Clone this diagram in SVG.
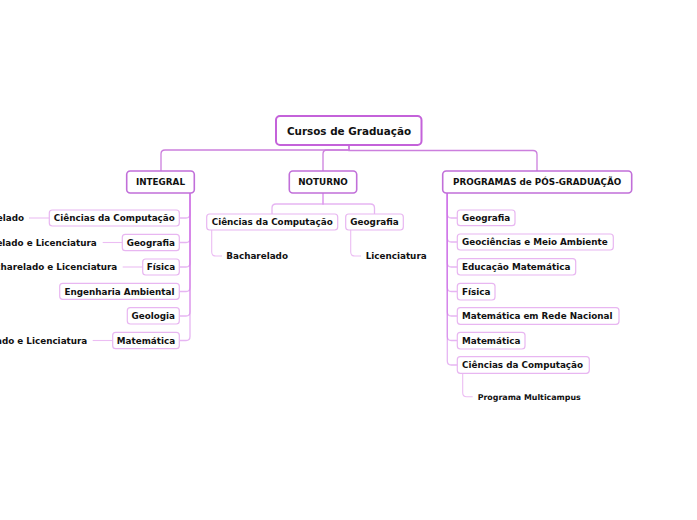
<svg xmlns="http://www.w3.org/2000/svg" width="697" height="520" viewBox="0 0 697 520">
<style>
text{font-family:"DejaVu Sans",Verdana,sans-serif;font-weight:bold;fill:#111;font-size:8.8px}
.root rect{fill:#fff;stroke:#c462da;stroke-width:2}
.root text{font-size:10.4px}
.l1 rect{fill:#fff;stroke:#c16fd9;stroke-width:1.6}
.l2 rect{fill:#fff;stroke:#e8b6f1;stroke-width:1.2}
.c0{fill:none;stroke:#cc7fdd;stroke-width:1.3}
.c1{fill:none;stroke:rgba(210,120,232,0.55);stroke-width:1.3}
.c2{fill:none;stroke:#ecbdf3;stroke-width:1.1}
.mid{text-anchor:middle}
.end{text-anchor:end}
</style>
<g id="connectors">
<path class="c0" d="M349,145 V150 H165 Q161,150 161,154 V171"/>
<path class="c0" d="M349,145 V150 H327 Q323,150 323,154 V171"/>
<path class="c0" d="M349,145 V150.5 H533 Q537,150.5 537,154.5 V171"/>
<path class="c1" d="M190,193 V214 Q190,218 186,218 H180"/>
<path class="c1" d="M190,193 V238.5 Q190,242.5 186,242.5 H180"/>
<path class="c1" d="M190,193 V263 Q190,267 186,267 H180"/>
<path class="c1" d="M190,193 V287.5 Q190,291.5 186,291.5 H180"/>
<path class="c1" d="M190,193 V312 Q190,316 186,316 H180"/>
<path class="c1" d="M190,193 V336.5 Q190,340.5 186,340.5 H180"/>
<path class="c2" d="M49,218 H29"/>
<path class="c2" d="M122.3,242.5 H102.7"/>
<path class="c2" d="M142.7,267 H122.7"/>
<path class="c2" d="M112.7,340.5 H92.7"/>
<path class="c1" d="M323,193 V204 H276 Q272,204 272,208 V214"/>
<path class="c1" d="M323,193 V204 H370.5 Q374.5,204 374.5,208 V214"/>
<path class="c2" d="M211.7,230 V252 Q211.7,256 215.7,256 H222"/>
<path class="c2" d="M350.7,230 V252 Q350.7,256 354.7,256 H361"/>
<path class="c1" d="M447.3,193 V214 Q447.3,218 451.3,218 H457.3"/>
<path class="c1" d="M447.3,193 V238 Q447.3,242 451.3,242 H457.3"/>
<path class="c1" d="M447.3,193 V263 Q447.3,267 451.3,267 H457.3"/>
<path class="c1" d="M447.3,193 V287.5 Q447.3,291.5 451.3,291.5 H457.3"/>
<path class="c1" d="M447.3,193 V312 Q447.3,316 451.3,316 H457.3"/>
<path class="c1" d="M447.3,193 V336.5 Q447.3,340.5 451.3,340.5 H457.3"/>
<path class="c1" d="M447.3,193 V361 Q447.3,365 451.3,365 H457.3"/>
<path class="c2" d="M462.7,373.3 V392.7 Q462.7,396.7 466.7,396.7 H472.7"/>
</g>
<g id="root" class="root"><rect x="276" y="116" width="145.5" height="29" rx="4"/><text class="mid" x="349" y="134.8">Cursos de Graduação</text></g>
<g id="integral" class="l1"><rect x="126.7" y="171" width="67.6" height="22" rx="3.5"/><text class="mid" x="160.5" y="185.3">INTEGRAL</text></g>
<g id="noturno" class="l1"><rect x="289.3" y="171" width="67.4" height="22" rx="3.5"/><text class="mid" x="323" y="185.3">NOTURNO</text></g>
<g id="pos" class="l1"><rect x="442.7" y="171" width="189" height="22" rx="3.5"/><text class="mid" x="537.2" y="185.3">PROGRAMAS de PÓS-GRADUAÇÃO</text></g>
<g id="int-cc" class="l2"><rect x="49.3" y="210" width="130" height="16" rx="3"/><text class="mid" x="114.3" y="221.2">Ciências da Computação</text></g>
<g id="int-geo" class="l2"><rect x="122.3" y="234.3" width="57" height="16.4" rx="3"/><text class="mid" x="150.8" y="245.7">Geografia</text></g>
<g id="int-fis" class="l2"><rect x="142.7" y="259" width="36.6" height="16" rx="3"/><text class="mid" x="161" y="270.2">Física</text></g>
<g id="int-eng" class="l2"><rect x="59.7" y="283.3" width="119.6" height="16" rx="3"/><text class="mid" x="119.5" y="294.6">Engenharia Ambiental</text></g>
<g id="int-geol" class="l2"><rect x="127.3" y="307.7" width="52" height="16.3" rx="3"/><text class="mid" x="153.3" y="319.1">Geologia</text></g>
<g id="int-mat" class="l2"><rect x="112.7" y="332.3" width="66.6" height="16.4" rx="3"/><text class="mid" x="146" y="343.7">Matemática</text></g>
<g id="int-cc-b"><text class="end" x="24" y="221.2">Bacharelado</text></g>
<g id="int-geo-b"><text class="end" x="96.7" y="245.7">Bacharelado e Licenciatura</text></g>
<g id="int-fis-b"><text class="end" x="117.3" y="270.2">Bacharelado e Licenciatura</text></g>
<g id="int-mat-b"><text class="end" x="87.3" y="343.7">Bacharelado e Licenciatura</text></g>
<g id="not-cc" class="l2"><rect x="206.7" y="214" width="131" height="16" rx="3"/><text class="mid" x="272.2" y="225.2">Ciências da Computação</text></g>
<g id="not-geo" class="l2"><rect x="345.7" y="214" width="57.6" height="16" rx="3"/><text class="mid" x="374.5" y="225.2">Geografia</text></g>
<g id="not-cc-b"><text x="226.3" y="259.2">Bacharelado</text></g>
<g id="not-geo-l"><text x="365.7" y="259.2">Licenciatura</text></g>
<g id="pos-geo" class="l2"><rect x="457.3" y="210" width="57.7" height="15.7" rx="3"/><text x="462" y="221.2">Geografia</text></g>
<g id="pos-geoc" class="l2"><rect x="457.3" y="234" width="156" height="16" rx="3"/><text x="462" y="245.2">Geociências e Meio Ambiente</text></g>
<g id="pos-edu" class="l2"><rect x="457.3" y="258.7" width="118.4" height="16.3" rx="3"/><text x="462" y="270.1">Educação Matemática</text></g>
<g id="pos-fis" class="l2"><rect x="457.3" y="283.3" width="37.7" height="16.7" rx="3"/><text x="462" y="294.8">Física</text></g>
<g id="pos-mrn" class="l2"><rect x="457.3" y="307.7" width="161.7" height="16.6" rx="3"/><text x="462" y="319.2">Matemática em Rede Nacional</text></g>
<g id="pos-mat" class="l2"><rect x="457.3" y="332.3" width="67.7" height="16.7" rx="3"/><text x="462" y="343.8">Matemática</text></g>
<g id="pos-cc" class="l2"><rect x="457.3" y="356.7" width="132" height="16.6" rx="3"/><text x="462" y="368.2">Ciências da Computação</text></g>
<g id="pos-cc-p"><text x="477.7" y="399.6" style="font-size:7.9px">Programa Multicampus</text></g>
</svg>
